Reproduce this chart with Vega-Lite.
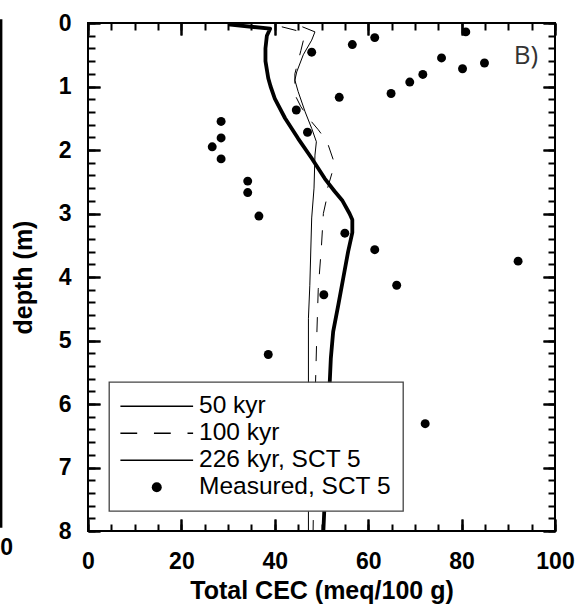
{
  "$schema": "https://vega.github.io/schema/vega-lite/v6.json",
  "width": 467,
  "height": 508,
  "autosize": {"type": "none"},
  "padding": {"left": 88, "top": 23, "right": 25, "bottom": 75},
  "background": "white",
  "config": {
    "view": {"stroke": "black", "strokeWidth": 2},
    "axis": {
      "grid": false,
      "domain": false,
      "tickColor": "black",
      "tickWidth": 2,
      "labelFont": "Liberation Sans",
      "labelFontWeight": "bold",
      "labelFontSize": 23,
      "labelColor": "black"
    },
    "legend": {"strokeWidth": 1.3}
  },
  "datasets": {
    "curves": [
      {"series": "226 kyr, SCT 5", "cec": 30.0, "depth": 0.02},
      {"series": "226 kyr, SCT 5", "cec": 39.0, "depth": 0.09},
      {"series": "226 kyr, SCT 5", "cec": 38.3, "depth": 0.2},
      {"series": "226 kyr, SCT 5", "cec": 38.0, "depth": 0.4},
      {"series": "226 kyr, SCT 5", "cec": 38.0, "depth": 0.6},
      {"series": "226 kyr, SCT 5", "cec": 38.6, "depth": 0.87},
      {"series": "226 kyr, SCT 5", "cec": 39.1, "depth": 1.0},
      {"series": "226 kyr, SCT 5", "cec": 40.0, "depth": 1.19},
      {"series": "226 kyr, SCT 5", "cec": 42.2, "depth": 1.5},
      {"series": "226 kyr, SCT 5", "cec": 45.0, "depth": 1.82},
      {"series": "226 kyr, SCT 5", "cec": 47.9, "depth": 2.13},
      {"series": "226 kyr, SCT 5", "cec": 50.7, "depth": 2.45},
      {"series": "226 kyr, SCT 5", "cec": 52.8, "depth": 2.65},
      {"series": "226 kyr, SCT 5", "cec": 54.5, "depth": 2.8},
      {"series": "226 kyr, SCT 5", "cec": 56.0, "depth": 3.0},
      {"series": "226 kyr, SCT 5", "cec": 56.6, "depth": 3.1},
      {"series": "226 kyr, SCT 5", "cec": 56.6, "depth": 3.3},
      {"series": "226 kyr, SCT 5", "cec": 55.7, "depth": 3.6},
      {"series": "226 kyr, SCT 5", "cec": 54.7, "depth": 4.0},
      {"series": "226 kyr, SCT 5", "cec": 53.6, "depth": 4.44},
      {"series": "226 kyr, SCT 5", "cec": 52.5, "depth": 4.86},
      {"series": "226 kyr, SCT 5", "cec": 52.0, "depth": 5.28},
      {"series": "226 kyr, SCT 5", "cec": 51.8, "depth": 5.6},
      {"series": "226 kyr, SCT 5", "cec": 51.2, "depth": 6.5},
      {"series": "226 kyr, SCT 5", "cec": 50.7, "depth": 7.5},
      {"series": "226 kyr, SCT 5", "cec": 50.4, "depth": 8.0},
      {"series": "50 kyr", "cec": 45.9, "depth": 0.06},
      {"series": "50 kyr", "cec": 48.6, "depth": 0.14},
      {"series": "50 kyr", "cec": 47.9, "depth": 0.27},
      {"series": "50 kyr", "cec": 46.1, "depth": 0.5},
      {"series": "50 kyr", "cec": 44.7, "depth": 0.77},
      {"series": "50 kyr", "cec": 44.3, "depth": 0.9},
      {"series": "50 kyr", "cec": 45.0, "depth": 1.08},
      {"series": "50 kyr", "cec": 46.5, "depth": 1.4},
      {"series": "50 kyr", "cec": 47.9, "depth": 1.66},
      {"series": "50 kyr", "cec": 48.9, "depth": 1.87},
      {"series": "50 kyr", "cec": 48.6, "depth": 2.08},
      {"series": "50 kyr", "cec": 48.4, "depth": 2.6},
      {"series": "50 kyr", "cec": 47.9, "depth": 3.07},
      {"series": "50 kyr", "cec": 47.5, "depth": 4.13},
      {"series": "50 kyr", "cec": 47.2, "depth": 4.65},
      {"series": "50 kyr", "cec": 47.2, "depth": 8.0},
      {"series": "100 kyr", "cec": 41.5, "depth": 0.06},
      {"series": "100 kyr", "cec": 44.7, "depth": 0.12},
      {"series": "100 kyr", "cec": 46.3, "depth": 0.22},
      {"series": "100 kyr", "cec": 45.6, "depth": 0.43},
      {"series": "100 kyr", "cec": 44.3, "depth": 0.8},
      {"series": "100 kyr", "cec": 44.3, "depth": 1.13},
      {"series": "100 kyr", "cec": 45.6, "depth": 1.32},
      {"series": "100 kyr", "cec": 47.8, "depth": 1.55},
      {"series": "100 kyr", "cec": 49.3, "depth": 1.68},
      {"series": "100 kyr", "cec": 51.2, "depth": 1.87},
      {"series": "100 kyr", "cec": 52.5, "depth": 2.15},
      {"series": "100 kyr", "cec": 52.3, "depth": 2.35},
      {"series": "100 kyr", "cec": 51.3, "depth": 2.6},
      {"series": "100 kyr", "cec": 51.0, "depth": 2.8},
      {"series": "100 kyr", "cec": 50.4, "depth": 3.0},
      {"series": "100 kyr", "cec": 50.0, "depth": 3.5},
      {"series": "100 kyr", "cec": 49.3, "depth": 4.2},
      {"series": "100 kyr", "cec": 49.0, "depth": 4.9},
      {"series": "100 kyr", "cec": 48.6, "depth": 6.0},
      {"series": "100 kyr", "cec": 48.2, "depth": 8.0}
    ],
    "measured": [
      {"series": "Measured, SCT 5", "cec": 47.9, "depth": 0.46},
      {"series": "Measured, SCT 5", "cec": 56.6, "depth": 0.34},
      {"series": "Measured, SCT 5", "cec": 61.4, "depth": 0.23},
      {"series": "Measured, SCT 5", "cec": 80.9, "depth": 0.14},
      {"series": "Measured, SCT 5", "cec": 75.7, "depth": 0.55},
      {"series": "Measured, SCT 5", "cec": 84.9, "depth": 0.63},
      {"series": "Measured, SCT 5", "cec": 80.2, "depth": 0.72},
      {"series": "Measured, SCT 5", "cec": 71.7, "depth": 0.81},
      {"series": "Measured, SCT 5", "cec": 68.9, "depth": 0.93},
      {"series": "Measured, SCT 5", "cec": 64.9, "depth": 1.11},
      {"series": "Measured, SCT 5", "cec": 53.8, "depth": 1.17},
      {"series": "Measured, SCT 5", "cec": 44.6, "depth": 1.37},
      {"series": "Measured, SCT 5", "cec": 47.0, "depth": 1.72},
      {"series": "Measured, SCT 5", "cec": 28.5, "depth": 1.55},
      {"series": "Measured, SCT 5", "cec": 28.5, "depth": 1.81},
      {"series": "Measured, SCT 5", "cec": 26.6, "depth": 1.95},
      {"series": "Measured, SCT 5", "cec": 28.5, "depth": 2.14},
      {"series": "Measured, SCT 5", "cec": 34.2, "depth": 2.49},
      {"series": "Measured, SCT 5", "cec": 34.2, "depth": 2.67},
      {"series": "Measured, SCT 5", "cec": 36.6, "depth": 3.04},
      {"series": "Measured, SCT 5", "cec": 55.0, "depth": 3.31},
      {"series": "Measured, SCT 5", "cec": 61.4, "depth": 3.57},
      {"series": "Measured, SCT 5", "cec": 66.1, "depth": 4.13},
      {"series": "Measured, SCT 5", "cec": 50.5, "depth": 4.28},
      {"series": "Measured, SCT 5", "cec": 38.6, "depth": 5.22},
      {"series": "Measured, SCT 5", "cec": 92.1, "depth": 3.75},
      {"series": "Measured, SCT 5", "cec": 72.2, "depth": 6.31}
    ]
  },
  "layer": [
    {
      "data": {"name": "curves"},
      "transform": [{"filter": {"field": "series", "equal": "50 kyr"}}],
      "mark": {"type": "line", "color": "black", "strokeWidth": 1, "strokeJoin": "round"},
      "encoding": {
        "x": {"field": "cec", "type": "quantitative",
              "scale": {"domain": [0, 100], "nice": false, "zero": false},
              "axis": {"orient": "bottom", "values": [0, 20, 40, 60, 80, 100], "tickSize": 0, "labelPadding": 19, "labelFlush": false,
                       "title": "Total CEC (meq/100 g)", "titlePadding": 5, "titleFont": "Liberation Sans", "titleFontWeight": "bold", "titleFontSize": 25, "titleColor": "black"}},
        "y": {"field": "depth", "type": "quantitative",
              "scale": {"domain": [0, 8], "reverse": true, "nice": false, "zero": false},
              "axis": {"orient": "left", "values": [0, 1, 2, 3, 4, 5, 6, 7, 8], "tickSize": 0, "labelPadding": 17,
                       "title": "depth (m)", "titlePadding": 22, "titleFont": "Liberation Sans", "titleFontWeight": "bold", "titleFontSize": 25, "titleColor": "black"}},
        "order": {"field": "depth", "type": "quantitative"}
      }
    },
    {
      "data": {"name": "curves"},
      "transform": [{"filter": {"field": "series", "equal": "100 kyr"}}],
      "mark": {"type": "line", "color": "black", "strokeWidth": 1, "strokeDash": [15, 14]},
      "encoding": {
        "x": {"field": "cec", "type": "quantitative",
              "scale": {"domain": [0, 100], "nice": false, "zero": false},
              "axis": {"orient": "bottom", "offset": -12, "values": [0, 20, 40, 60, 80, 100], "tickSize": 12, "labels": false, "title": null}},
        "y": {"field": "depth", "type": "quantitative",
              "scale": {"domain": [0, 8], "reverse": true, "nice": false, "zero": false},
              "axis": {"orient": "left", "values": [0, 1, 2, 3, 4, 5, 6, 7, 8], "tickSize": -12, "labels": false, "title": null}},
        "order": {"field": "depth", "type": "quantitative"}
      }
    },
    {
      "data": {"name": "curves"},
      "transform": [{"filter": {"field": "series", "equal": "226 kyr, SCT 5"}}],
      "mark": {"type": "line", "color": "black", "strokeWidth": 3.8, "strokeJoin": "round"},
      "encoding": {
        "x": {"field": "cec", "type": "quantitative",
              "scale": {"domain": [0, 100], "nice": false, "zero": false},
              "axis": {"orient": "bottom", "offset": -7, "values": [0, 5, 10, 15, 20, 25, 30, 35, 40, 45, 50, 55, 60, 65, 70, 75, 80, 85, 90, 95, 100], "tickSize": 7, "labels": false, "title": null}},
        "y": {"field": "depth", "type": "quantitative",
              "scale": {"domain": [0, 8], "reverse": true, "nice": false, "zero": false},
              "axis": {"orient": "left", "values": [0, 0.2, 0.4, 0.6, 0.8, 1, 1.2, 1.4, 1.6, 1.8, 2, 2.2, 2.4, 2.6, 2.8, 3, 3.2, 3.4, 3.6, 3.8, 4, 4.2, 4.4, 4.6, 4.8, 5, 5.2, 5.4, 5.6, 5.8, 6, 6.2, 6.4, 6.6, 6.8, 7, 7.2, 7.4, 7.6, 7.8, 8], "tickSize": -7, "labels": false, "title": null}},
        "order": {"field": "depth", "type": "quantitative"}
      }
    },
    {
      "data": {"name": "measured"},
      "mark": {"type": "point", "filled": true, "color": "black", "size": 80, "opacity": 1},
      "encoding": {
        "x": {"field": "cec", "type": "quantitative",
              "scale": {"domain": [0, 100], "nice": false, "zero": false},
              "axis": {"orient": "top", "offset": -12, "values": [0, 20, 40, 60, 80, 100], "tickSize": 12, "labels": false, "title": null}},
        "y": {"field": "depth", "type": "quantitative",
              "scale": {"domain": [0, 8], "reverse": true, "nice": false, "zero": false},
              "axis": {"orient": "right", "values": [0, 1, 2, 3, 4, 5, 6, 7, 8], "tickSize": -12, "labels": false, "title": null}},
        "shape": {"field": "series", "type": "nominal",
              "scale": {"domain": ["50 kyr", "100 kyr", "226 kyr, SCT 5", "Measured, SCT 5"],
                        "range": ["M-7.27,-0.13H7.27V0.13H-7.27Z", "M-7.27,-0.13H-3.91V0.13H-7.27ZM-0.56,-0.13H2.8V0.13H-0.56ZM6.15,-0.13H7.27V0.13H6.15Z", "M-7.27,-0.16H7.27V0.16H-7.27Z", "circle"]},
              "legend": {"title": null, "orient": "none", "legendX": 21, "legendY": 359, "padding": 12, "fillColor": "white", "strokeColor": "#444",
                         "labelFont": "Liberation Sans", "labelFontSize": 24.5, "labelColor": "black", "labelLimit": 400, "symbolOffset": 23.5, "labelOffset": 30, "rowPadding": 2,
                         "symbolFillColor": "black", "symbolOpacity": 1}}
      }
    },
    {
      "data": {"values": [{}]},
      "mark": {"type": "rule", "color": "black", "strokeWidth": 2.5},
      "encoding": {
        "x": {"datum": -18.6, "type": "quantitative",
              "scale": {"domain": [0, 100], "nice": false, "zero": false},
              "axis": {"orient": "top", "offset": -7, "values": [0, 5, 10, 15, 20, 25, 30, 35, 40, 45, 50, 55, 60, 65, 70, 75, 80, 85, 90, 95, 100], "tickSize": 7, "labels": false, "title": null}},
        "y": {"datum": -0.06, "type": "quantitative",
              "scale": {"domain": [0, 8], "reverse": true, "nice": false, "zero": false},
              "axis": {"orient": "right", "values": [0, 0.2, 0.4, 0.6, 0.8, 1, 1.2, 1.4, 1.6, 1.8, 2, 2.2, 2.4, 2.6, 2.8, 3, 3.2, 3.4, 3.6, 3.8, 4, 4.2, 4.4, 4.6, 4.8, 5, 5.2, 5.4, 5.6, 5.8, 6, 6.2, 6.4, 6.6, 6.8, 7, 7.2, 7.4, 7.6, 7.8, 8], "tickSize": -7, "labels": false, "title": null}},
        "y2": {"datum": 7.95}
      }
    },
    {
      "data": {"values": [{}]},
      "mark": {"type": "text", "text": "0", "font": "Liberation Sans", "fontWeight": "bold", "fontSize": 23, "align": "center", "baseline": "middle", "color": "black"},
      "encoding": {
        "x": {"datum": -17.4, "type": "quantitative",
              "scale": {"domain": [0, 100], "nice": false, "zero": false},
              "axis": {"orient": "bottom", "offset": -12, "values": [0, 20, 40, 60, 80, 100], "tickSize": 12, "labels": false, "title": null}},
        "y": {"datum": 8.26, "type": "quantitative",
              "scale": {"domain": [0, 8], "reverse": true, "nice": false, "zero": false},
              "axis": {"orient": "left", "offset": -12, "values": [0, 1, 2, 3, 4, 5, 6, 7, 8], "tickSize": 12, "labels": false, "title": null}}
      }
    },
    {
      "data": {"values": [{}]},
      "mark": {"type": "text", "text": "B)", "font": "Open Sans", "fontSize": 26, "align": "center", "baseline": "middle", "color": "#333"},
      "encoding": {
        "x": {"datum": 93.8, "type": "quantitative",
              "scale": {"domain": [0, 100], "nice": false, "zero": false},
              "axis": {"orient": "top", "offset": -12, "values": [0, 20, 40, 60, 80, 100], "tickSize": 12, "labels": false, "title": null}},
        "y": {"datum": 0.52, "type": "quantitative",
              "scale": {"domain": [0, 8], "reverse": true, "nice": false, "zero": false},
              "axis": {"orient": "right", "offset": -12, "values": [0, 1, 2, 3, 4, 5, 6, 7, 8], "tickSize": 12, "labels": false, "title": null}}
      }
    }
  ],
  "resolve": {"axis": {"x": "independent", "y": "independent"}}
}
